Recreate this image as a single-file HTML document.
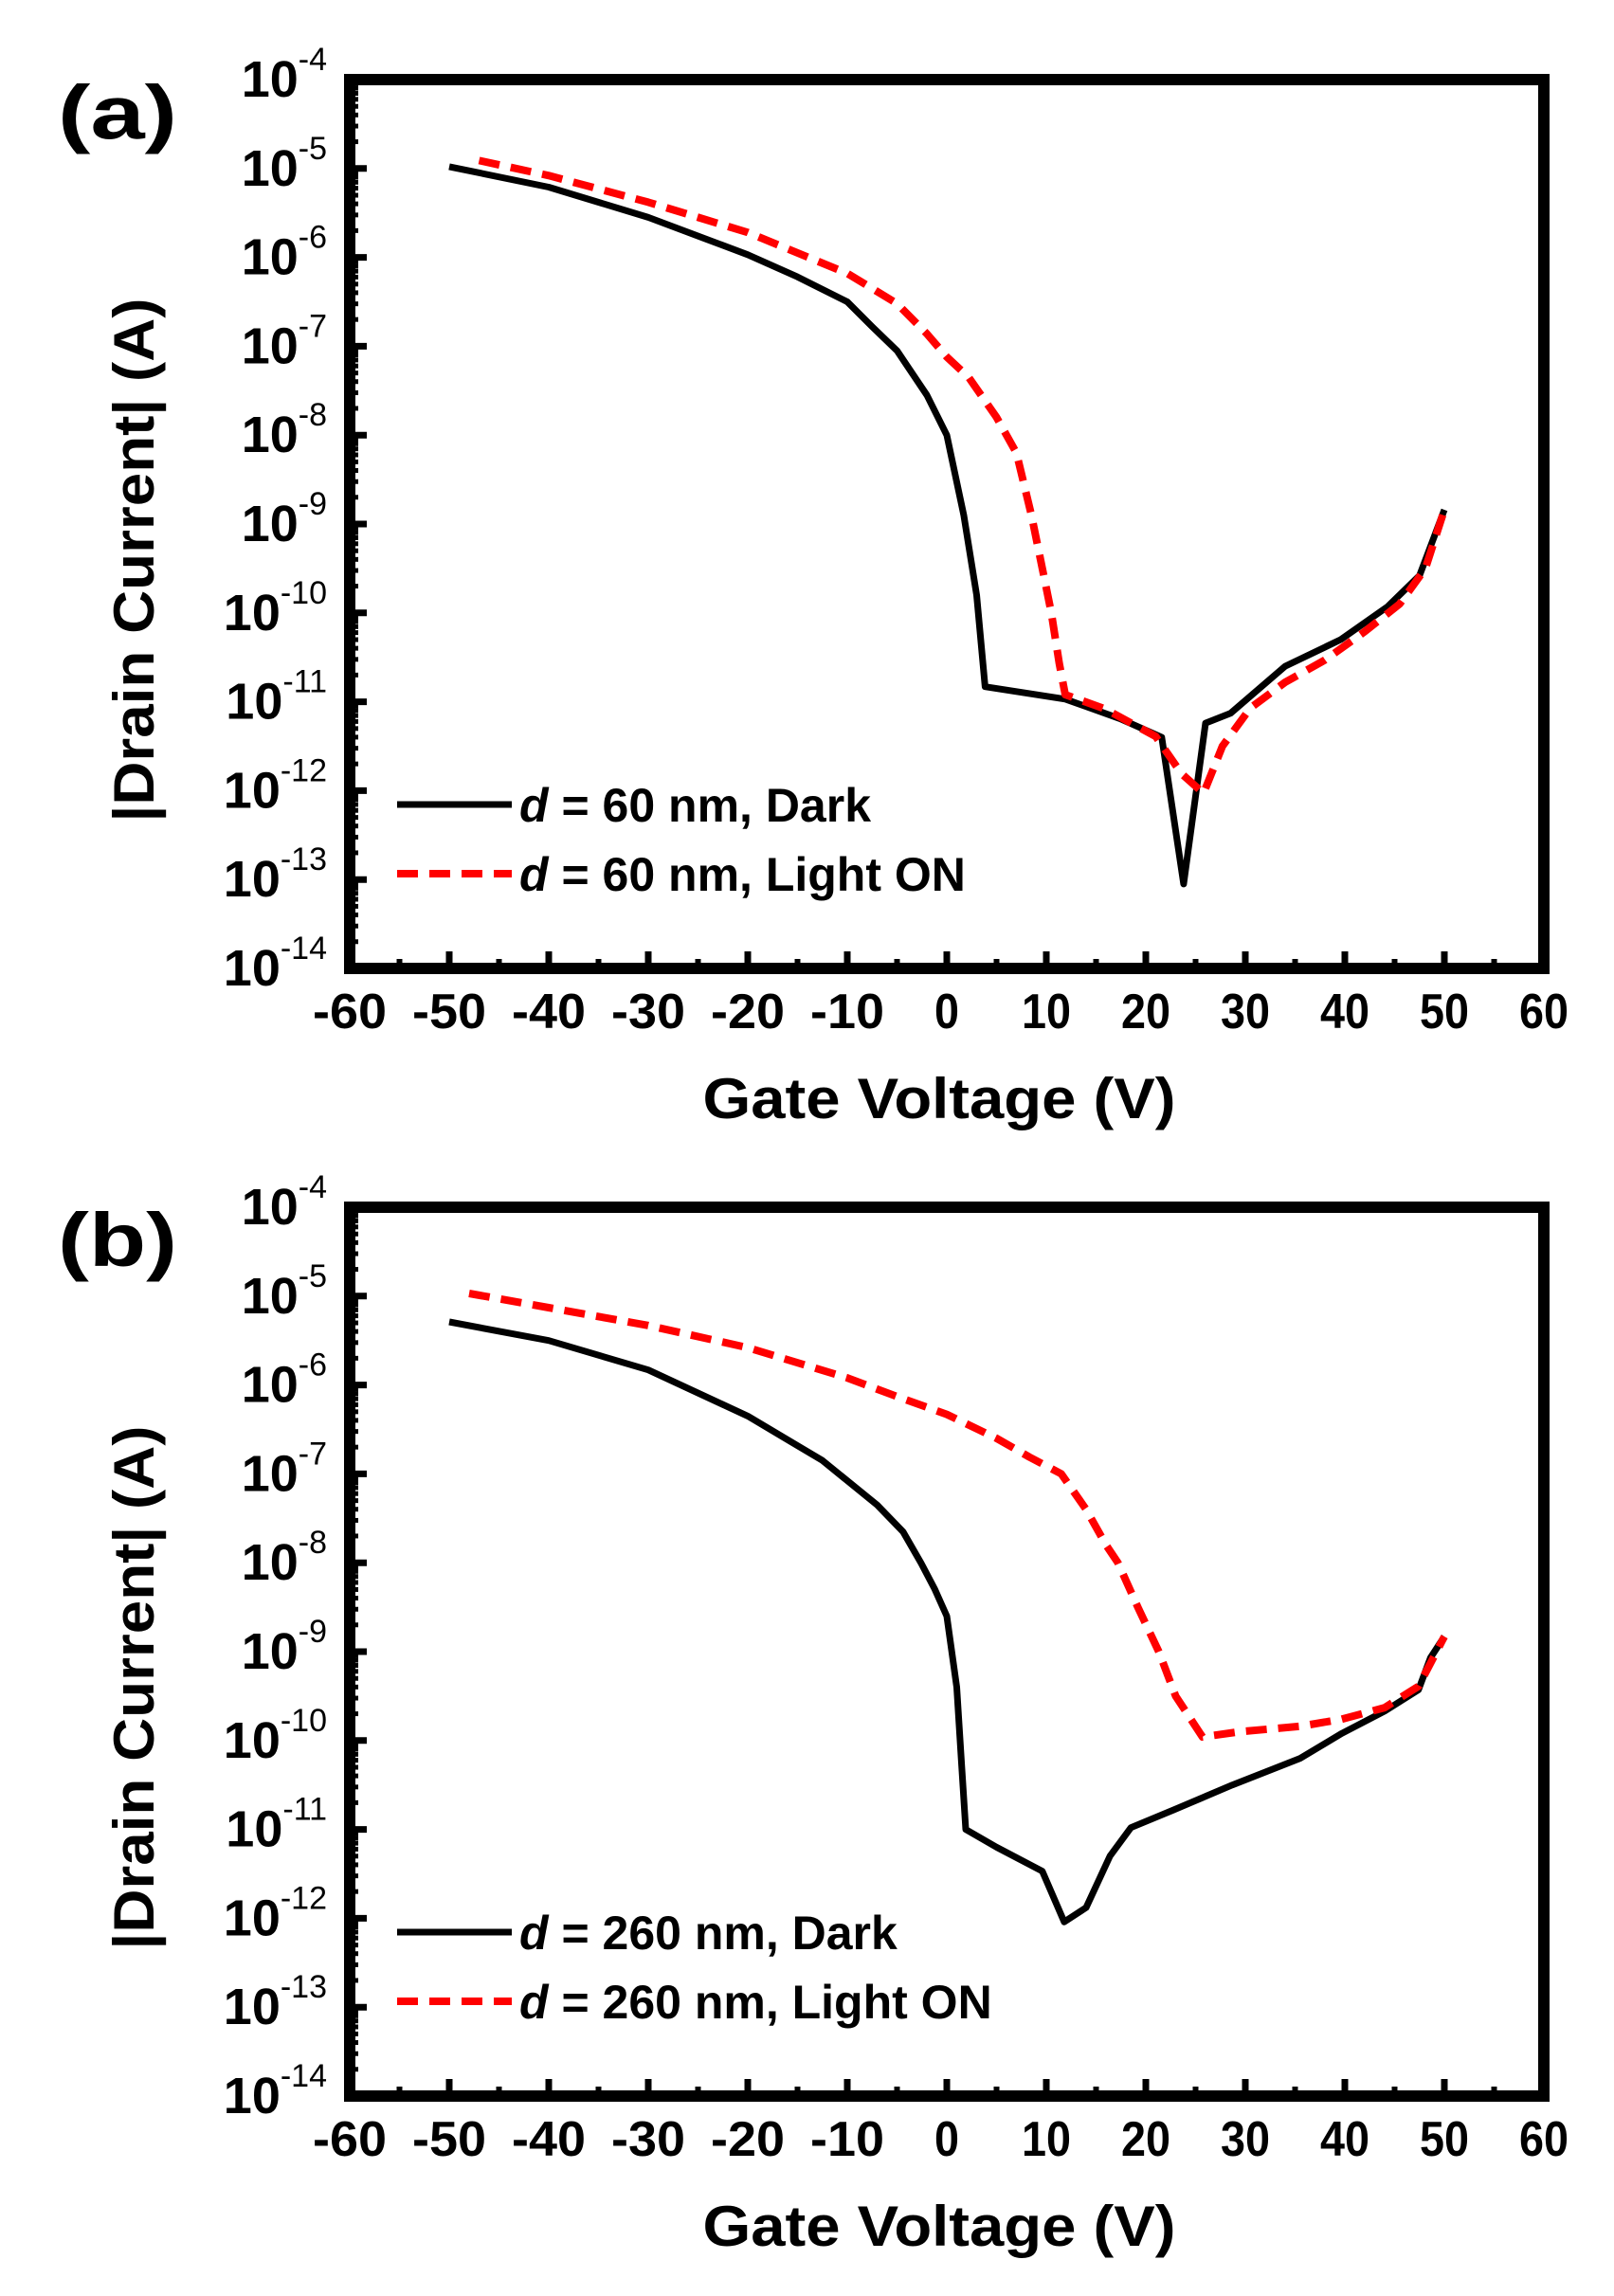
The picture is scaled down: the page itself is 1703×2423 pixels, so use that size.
<!DOCTYPE html>
<html><head><meta charset="utf-8"><style>
html,body{margin:0;padding:0;background:#fff;}
svg{display:block;}
text{font-family:"Liberation Sans",sans-serif;font-weight:bold;fill:#000;}
</style></head><body>
<svg id="fig" width="1703" height="2423" viewBox="0 0 1703 2423" xmlns="http://www.w3.org/2000/svg"></svg>
<script>
const xTicks = [-60,-50,-40,-30,-20,-10,0,10,20,30,40,50,60];
const yExps = [-4,-5,-6,-7,-8,-9,-10,-11,-12,-13,-14];
// panel a data (V, log10 |I|)
const aDarkV = [-50,-40,-30,-20,-15,-10,-7.5,-5,-2,0,1.7,3,3.85,11.9,17.4,21.6,23.8,26,28.5,34,39.6,44.3,47.5,50];
const aDarkL = [-4.98,-5.21,-5.55,-5.97,-6.22,-6.5,-6.78,-7.05,-7.55,-8.0,-8.9,-9.8,-10.83,-10.97,-11.19,-11.4,-13.05,-11.24,-11.13,-10.6,-10.3,-9.93,-9.58,-8.84];
const aLightV = [-47,-40,-30,-20,-10,-5,-2,0,2.2,5,7,8.5,9.6,10.5,11.3,11.9,15.9,21,23.6,25.8,27.7,30.5,34,38,42,45.5,48.1,50];
const aLightL = [-4.91,-5.08,-5.38,-5.72,-6.18,-6.52,-6.86,-7.12,-7.35,-7.8,-8.2,-8.9,-9.5,-10.0,-10.57,-10.92,-11.08,-11.39,-11.81,-12.03,-11.5,-11.07,-10.78,-10.53,-10.21,-9.9,-9.5,-8.84];
// panel b data
const bDarkV = [-50,-40,-30,-20,-12.5,-7,-4.4,-2.6,-1.2,0,1,1.5,1.9,5,9.6,11.8,14,16.4,18.5,22.8,28.7,35.5,39.7,44,47.4,48.6,50];
const bDarkL = [-5.29,-5.5,-5.83,-6.35,-6.85,-7.35,-7.65,-8.0,-8.3,-8.6,-9.4,-10.3,-11.0,-11.2,-11.47,-12.04,-11.88,-11.3,-10.98,-10.78,-10.5,-10.2,-9.92,-9.67,-9.43,-9.07,-8.83];
const bLightV = [-48,-40,-30,-20,-10,-5,0,5,8.3,11.5,14,16,17.2,19.2,21.3,23,25.7,29.5,35.5,39.7,44,47.4,50];
const bLightL = [-4.97,-5.13,-5.33,-5.58,-5.92,-6.13,-6.33,-6.6,-6.81,-7.0,-7.4,-7.8,-8.0,-8.5,-9.0,-9.5,-9.96,-9.9,-9.84,-9.76,-9.63,-9.39,-8.83];

const NS="http://www.w3.org/2000/svg";
const svg=document.getElementById('fig');
function mk(tag,attrs,parent){const e=document.createElementNS(NS,tag);for(const k in attrs)e.setAttribute(k,attrs[k]);(parent||svg).appendChild(e);return e;}

function panel(id,top,label,darkV,darkL,lightV,lightL,legD,legL){
  const L=369,R=1629,T=top,B=top+938;
  const g=mk('g',{});
  
  
  const xs=v=>L+(v+60)/120*(R-L);
  const ys=l=>T+(-4-l)/10*(B-T);
  xTicks.forEach(v=>{
    const t=mk('line',{x1:xs(v),x2:xs(v),y1:B,y2:B-18,stroke:'#000','stroke-width':7},g);
    
    
    if(v<60){const m=mk('line',{x1:xs(v+5),x2:xs(v+5),y1:B,y2:B-10,stroke:'#000','stroke-width':6},g);
      
      }
    const tx=mk('text',{x:xs(v),y:B+63,'font-size':52,'text-anchor':'middle',textLength:(String(v).length*26),lengthAdjust:'spacingAndGlyphs'},g);
    tx.textContent=String(v);
    
    
  });
  yExps.forEach(e=>{
    const y=ys(e);
    const t=mk('line',{x1:L,x2:L+18,y1:y,y2:y,stroke:'#000','stroke-width':7},g);
    
    
    if(e>-14){for(let k=2;k<10;k++){const yy=ys(e-1+Math.log10(k));
      const m=mk('line',{x1:L,x2:L+9,y1:yy,y2:yy,stroke:'#000','stroke-width':5},g);
      
      }}
    const tx=mk('text',{x:345,y:y+18,'font-size':54,'text-anchor':'end'},g);
    
    
    const a=mk('tspan',{},tx);a.textContent='10';
    const b=mk('tspan',{'font-size':34,dy:-28,'font-weight':'normal'},tx);b.textContent=String(e);
  });
  const fr=mk('rect',{x:L,y:T,width:R-L,height:B-T,fill:'none',stroke:'#000','stroke-width':12},g);
  
  
  const pts=(V,Lg)=>V.map((v,i)=>xs(v).toFixed(1)+','+ys(Lg[i]).toFixed(1)).join(' ');
  const d=mk('polyline',{points:pts(darkV,darkL),fill:'none',stroke:'#000','stroke-width':7,'stroke-linejoin':'round'},g);
  
  
  const l=mk('polyline',{points:pts(lightV,lightL),fill:'none',stroke:'#ff0000','stroke-width':8,'stroke-dasharray':'22 12','stroke-linejoin':'round'},g);
  
  
  const ly1=T+765, ly2=T+838;
  const le1=mk('line',{x1:419,x2:540,y1:ly1,y2:ly1,stroke:'#000','stroke-width':7},g);
  
  
  const le2=mk('line',{x1:419,x2:540,y1:ly2,y2:ly2,stroke:'#ff0000','stroke-width':8,'stroke-dasharray':'22 12'},g);
  
  
  [[ly1,legD],[ly2,legL]].forEach(([y,s])=>{
    const t=mk('text',{x:548,y:y+18,'font-size':50},g);
    
    
    const i=mk('tspan',{'font-style':'italic'},t);i.textContent='d';
    const r=mk('tspan',{},t);r.textContent=s;
  });
  const xt=mk('text',{x:991,y:B+158,'font-size':60,'text-anchor':'middle',textLength:499,lengthAdjust:'spacingAndGlyphs'},g);
  xt.textContent='Gate Voltage (V)';
  
  
  const yt=mk('text',{x:0,y:0,'font-size':60,'text-anchor':'middle',textLength:553,lengthAdjust:'spacingAndGlyphs',transform:`translate(162,${T+507}) rotate(-90)`},g);
  yt.textContent='|Drain Current| (A)';
  
  
  const pl=mk('text',{x:61,y:T+62,'font-size':80,textLength:126,lengthAdjust:'spacingAndGlyphs'},g);
  pl.textContent=label;
  
  
}
panel('a',84,'(a)',aDarkV,aDarkL,aLightV,aLightL,' = 60 nm, Dark',' = 60 nm, Light ON');
panel('b',1274,'(b)',bDarkV,bDarkL,bLightV,bLightL,' = 260 nm, Dark',' = 260 nm, Light ON');
</script>
</body></html>
